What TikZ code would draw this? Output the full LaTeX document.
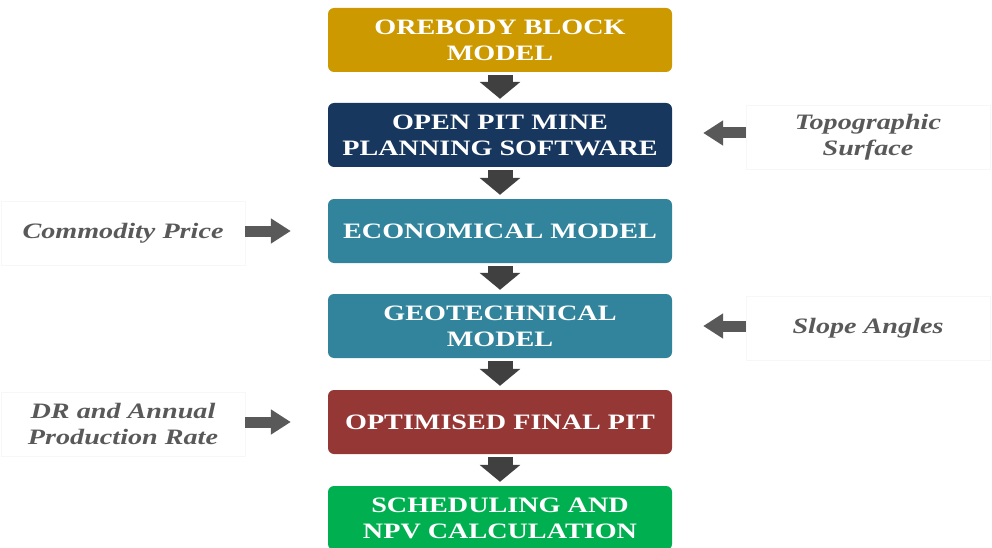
\documentclass[tikz,border=0pt]{standalone}
\usepackage{fontspec}
\setmainfont{Liberation Serif}
\newfontfamily\widefont[FakeStretch=1.28]{Liberation Serif}
\usetikzlibrary{arrows.meta}
\definecolor{mgold}{HTML}{CC9900}
\definecolor{mnavy}{HTML}{17375E}
\definecolor{mteal}{HTML}{31849B}
\definecolor{mred}{HTML}{953735}
\definecolor{mgreen}{HTML}{00B050}
\definecolor{mgrey}{HTML}{595959}
\definecolor{mdark}{HTML}{404040}

\begin{document}
\begin{tikzpicture}[x=1pt, y=-1pt,
    stage/.style={rectangle, rounded corners=6pt, minimum width=344pt, minimum height=64pt,
      inner sep=0pt, align=center, text=white, font=\widefont\fontsize{22}{26}\selectfont\bfseries},
    inputbox/.style={rectangle, draw=black!3, minimum width=244pt, minimum height=64pt,
      inner sep=0pt, align=center, text=mgrey, font=\widefont\fontsize{22}{26}\selectfont\bfseries\itshape},
    chainarrow/.style={draw=mdark, line width=25pt, -{Triangle[length=17pt, width=40pt]},
      shorten <=3pt, shorten >=4pt},
    feedarrow/.style={draw=mgrey, line width=11pt, -{Triangle[length=20pt, width=24pt]}}]
  \useasboundingbox (0,0) rectangle (992,548);

  % Main chain
  \node[stage, fill=mgold] (orebody) at (500,40) {OREBODY BLOCK\\MODEL};
  \node[stage, fill=mnavy] (software) at (500,135) {OPEN PIT MINE\\PLANNING SOFTWARE};
  \node[stage, fill=mteal] (economic) at (500,231) {ECONOMICAL MODEL};
  \node[stage, fill=mteal] (geotech) at (500,326) {GEOTECHNICAL\\MODEL};
  \node[stage, fill=mred] (finalpit) at (500,422) {OPTIMISED FINAL PIT};
  \node[stage, fill=mgreen] (schedule) at (500,518) {SCHEDULING AND\\NPV CALCULATION};

  % Inputs
  \node[inputbox] (topo) at (868,137) {Topographic\\Surface};
  \node[inputbox] (price) at (123,233) {Commodity Price};
  \node[inputbox] (slope) at (868,328) {Slope Angles};
  \node[inputbox] (rate) at (123,424) {DR and Annual\\Production Rate};

  % Arrows down the chain
  \draw[chainarrow] (orebody) -- (software);
  \draw[chainarrow] (software) -- (economic);
  \draw[chainarrow] (economic) -- (geotech);
  \draw[chainarrow] (geotech) -- (finalpit);
  \draw[chainarrow] (finalpit) -- (schedule);

  % Arrows from the inputs
  \draw[feedarrow, shorten >=31pt] ([yshift=4pt]topo.west) -- ([yshift=4pt]topo.west -| software.east);
  \draw[feedarrow, shorten >=37pt] ([yshift=2pt]price.east) -- ([yshift=2pt]price.east -| economic.west);
  \draw[feedarrow, shorten >=31pt] ([yshift=2pt]slope.west) -- ([yshift=2pt]slope.west -| geotech.east);
  \draw[feedarrow, shorten >=37pt] ([yshift=2pt]rate.east) -- ([yshift=2pt]rate.east -| finalpit.west);
\end{tikzpicture}
\end{document}
